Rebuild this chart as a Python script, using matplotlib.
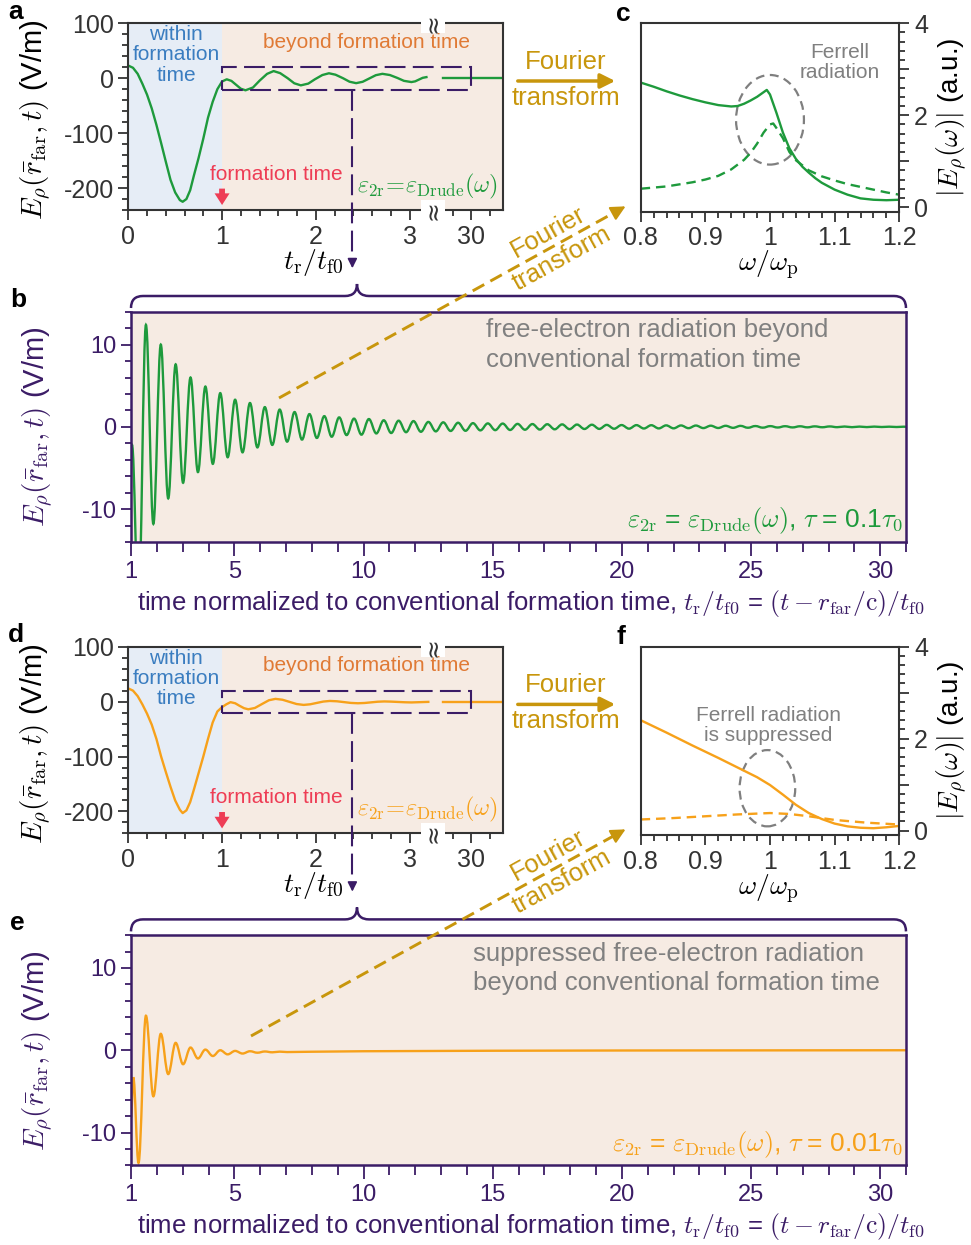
import numpy as np
import matplotlib.pyplot as plt
from matplotlib.patches import Rectangle, Ellipse, PathPatch
from matplotlib.path import Path
from matplotlib.lines import Line2D
from matplotlib.ticker import MultipleLocator, FixedLocator, FixedFormatter

plt.rcParams['font.family'] = ['Liberation Sans', 'DejaVu Sans']
plt.rcParams['mathtext.fontset'] = 'cm'
plt.rcParams['axes.unicode_minus'] = False

W, H = 971, 1245

GREEN = '#1e9a3c'
ORANGE = '#f7a11a'
PURPLE = '#3b1c66'
GOLD = '#c8960c'
DARK = '#333333'
BLUE_BG = '#e6edf6'
PEACH_BG = '#f6ebe3'
BLUE_TXT = '#3a7dc0'
ORANGE_TXT = '#e07a35'
RED_TXT = '#ee3d55'
GREY_TXT = '#808080'

# field pulse inside the formation time, t_r/t_f0 in [0, 1]
t_pulse = [0, 0.05, 0.1, 0.15, 0.2, 0.25, 0.3, 0.35, 0.4, 0.45, 0.5,
           0.55, 0.58, 0.62, 0.66, 0.7, 0.75, 0.8, 0.85, 0.9, 0.95, 1.0]
E_pulse_a = [23, 19, 8, -10, -30, -55, -85, -118, -152, -185, -208,
             -222, -225, -220, -204, -177, -145, -110, -72, -43, -20, -6]
E_pulse_d = [24, 20, 10, -5, -22, -42, -68, -100, -128, -155, -180,
             -197, -203, -198, -183, -160, -130, -100, -68, -38, -18, -10]

# early ringing after the formation time (tau = 0.1 tau0)
t_tail_a = [1.05, 1.10, 1.15, 1.20, 1.25, 1.33, 1.40, 1.48, 1.55, 1.62, 1.70,
            1.77, 1.84, 1.92, 1.99, 2.07, 2.14, 2.21, 2.29, 2.36, 2.43, 2.50,
            2.57, 2.64, 2.71, 2.79, 2.87, 2.94, 3.02, 3.06, 3.10, 3.14, 3.18]
E_tail_a = [-2, -4.9, -12, -19.1, -22, -16.9, -4.5, 7.9, 13, 9.2, 0,
            -9.2, -13, -9.8, -2, 5.8, 9, 6.4, 0, -6.4, -9, -6.5,
            -0.5, 5.5, 8, 5.8, 0.5, -4.8, -7, -5.7, -2.5, 0.7, 2]

# early ringing after the formation time (tau = 0.01 tau0)
t_tail_d = [1.045, 1.09, 1.14, 1.185, 1.235, 1.28, 1.35, 1.425, 1.50, 1.57,
            1.645, 1.72, 1.795, 1.87, 1.94, 2.01, 2.08, 2.15, 2.225, 2.30,
            2.375, 2.45, 2.52, 2.59, 2.66, 2.73, 2.80, 2.875, 2.95, 3.02,
            3.11, 3.20]
E_tail_d = [-5, -1, -3, -7.5, -12, -14, -11.6, -4.5, 2.5, 5,
            3.4, -0.5, -4.4, -6, -4.9, -2.4, 0.1, 1.2, 0.6, -0.9,
            -2.4, -3, -2.5, -1.35, -0.2, 0.3, 0, -0.6, -1.2, -1.5,
            -1.0, -0.5]

# field near t_r/t_f0 = 30
t_far = [29.70, 30.34]
E_far = [0, 0]

# long-time traces: successive extrema, half an oscillation period apart
t_first_ext = 1.29
half_period = 0.2877
t_start_b = [1.0, 1.04]
E_start_b = [-3.0, -2.2]
E_ext_b = [-22, 12.4, -11.8, 10.0, -8.7, 7.6, -6.8, 6.0, -5.5, 4.9,
           -4.5, 4.1, -3.7, 3.3, -3.1, 2.9, -2.5, 2.4, -2.2, 2.1,
           -1.8, 1.8, -1.55, 1.55, -1.35, 1.3, -1.2, 1.15, -1.0, 1.0,
           -0.95, 0.95, -0.8, 0.8, -0.75, 0.75, -0.65, 0.7, -0.6, 0.6,
           -0.55, 0.55, -0.5, 0.5, -0.48, 0.45, -0.43, 0.42, -0.4, 0.4,
           -0.38, 0.36, -0.35, 0.34, -0.33, 0.32, -0.3, 0.3, -0.28, 0.28,
           -0.26, 0.26, -0.25, 0.24, -0.23, 0.22, -0.22, 0.21, -0.2, 0.2,
           -0.19, 0.18, -0.18, 0.17, -0.16, 0.16, -0.15, 0.14, -0.14, 0.13,
           -0.12, 0.12, -0.11, 0.1, -0.1, 0.09, -0.08, 0.08, -0.07, 0.07,
           -0.06, 0.06, -0.05, 0.05, -0.04, 0.04, -0.04, 0.03, -0.03, 0.03,
           -0.02, 0.02, -0.02, 0.02]
t_end_b = [31.0]
E_end_b = [0.0]

t_start_e = [1.0, 1.09]
E_start_e = [-8.2, -3.3]
E_ext_e = [-13.7, 4.2, -5.6, 2.0, -2.9, 0.9, -1.7, 0.33, -1.0, 0.08,
           -0.7, 0.0, -0.5, -0.08, -0.4, -0.12, -0.3, -0.15, -0.25, -0.17,
           -0.22]
t_end_e = [8, 10, 15, 20, 31]
E_end_e = [-0.18, -0.12, -0.06, -0.03, 0]

# spectra |E_rho(omega)|
w_c = [0.80, 0.82, 0.84, 0.86, 0.88, 0.90, 0.92, 0.94, 0.95, 0.96, 0.97,
       0.98, 0.99, 0.995, 1.00, 1.01, 1.02, 1.03, 1.04, 1.05, 1.06, 1.07,
       1.08, 1.10, 1.12, 1.14, 1.16, 1.18, 1.20]
S_c = [2.71, 2.62, 2.52, 2.43, 2.35, 2.28, 2.22, 2.19, 2.20, 2.25, 2.32,
       2.40, 2.50, 2.55, 2.45, 2.05, 1.62, 1.28, 1.05, 0.88, 0.75, 0.63,
       0.53, 0.38, 0.27, 0.19, 0.16, 0.15, 0.16]
w_c_dash = [0.80, 0.84, 0.88, 0.90, 0.92, 0.94, 0.96, 0.97, 0.98, 0.99,
            1.00, 1.005, 1.01, 1.02, 1.03, 1.04, 1.06, 1.08, 1.10, 1.12,
            1.15, 1.18, 1.20]
S_c_dash = [0.40, 0.45, 0.54, 0.60, 0.68, 0.82, 1.03, 1.18, 1.38, 1.62,
            1.80, 1.82, 1.72, 1.50, 1.20, 1.02, 0.80, 0.67, 0.58, 0.50,
            0.41, 0.32, 0.27]
w_f = [0.80, 0.84, 0.88, 0.92, 0.96, 0.98, 1.00, 1.02, 1.04, 1.06, 1.08,
       1.10, 1.12, 1.14, 1.16, 1.18, 1.20]
S_f = [2.40, 2.13, 1.85, 1.58, 1.30, 1.16, 0.99, 0.78, 0.56, 0.38, 0.25,
       0.15, 0.09, 0.06, 0.05, 0.07, 0.10]
w_f_dash = [0.80, 0.85, 0.90, 0.95, 1.00, 1.03, 1.06, 1.10, 1.15, 1.20]
S_f_dash = [0.24, 0.27, 0.31, 0.35, 0.38, 0.36, 0.31, 0.23, 0.17, 0.13]

fig = plt.figure(figsize=(W / 100, H / 100), dpi=100)


def add_ax(x0, y0, x1, y1):
    return fig.add_axes([x0 / W, 1 - y1 / H, (x1 - x0) / W, (y1 - y0) / H])


def ftext(x, y, s, **kw):
    kw.setdefault('ha', 'center')
    kw.setdefault('va', 'center')
    return fig.text(x / W, 1 - y / H, s, **kw)


def to_fig(ax, x, y):
    return fig.transFigure.inverted().transform(ax.transData.transform((x, y)))


def style_axes(ax, color, lw=1.5, size=18):
    for s in ax.spines.values():
        s.set_color(color)
        s.set_linewidth(lw)
    ax.tick_params(which='both', direction='out', color=color, labelcolor=color,
                   labelsize=size, width=1.3)
    ax.tick_params(which='major', length=7)
    ax.tick_params(which='minor', length=4)


def wave(ax, t, E, color, lw=1.7):
    # smooth trace through the extrema: flat tangents at every node
    verts = [(t[0], E[0])]
    codes = [Path.MOVETO]
    for i in range(1, len(t)):
        d = 0.363 * (t[i] - t[i - 1])
        verts += [(t[i - 1] + d, E[i - 1]), (t[i] - d, E[i]), (t[i], E[i])]
        codes += [Path.CURVE4] * 3
    ax.add_patch(PathPatch(Path(verts, codes), fill=False, ec=color, lw=lw))


YLAB = r'$E_\rho(\bar{r}_\mathrm{far},t)$ (V/m)'
EPS = r'$\varepsilon_{\mathrm{2r}}\!=\!\varepsilon_{\mathrm{Drude}}(\omega)$'


def time_panel(dy, t, E, color, letter):
    axL = add_ax(128.3, 23.3 + dy, 433, 210 + dy)
    axR = add_ax(433, 23.3 + dy, 503, 210 + dy)
    for ax in (axL, axR):
        ax.set_ylim(-240, 100)
        style_axes(ax, DARK)
    axL.set_xlim(0, 3.25)
    axL.axvspan(0, 1, color=BLUE_BG, lw=0)
    axL.axvspan(1, 3.25, color=PEACH_BG, lw=0)
    axL.spines['right'].set_visible(False)
    axL.xaxis.set_major_locator(MultipleLocator(1))
    axL.xaxis.set_minor_locator(MultipleLocator(0.2))
    axL.yaxis.set_major_locator(MultipleLocator(100))
    axL.yaxis.set_minor_locator(MultipleLocator(20))
    axL.plot(t, E, color=color, lw=1.7)

    axR.set_xlim(29.59, 30.34)
    axR.set_facecolor(PEACH_BG)
    axR.spines['left'].set_visible(False)
    axR.set_xticks([30])
    axR.xaxis.set_minor_locator(MultipleLocator(0.2))
    axR.tick_params(axis='y', which='both', left=False, labelleft=False)
    axR.plot(t_far, E_far, color=color, lw=1.7)

    # axis break marks
    for yb in (23.3 + dy, 210 + dy):
        ftext(433, yb, '≈', rotation=90, fontsize=17, color=DARK,
              family='DejaVu Sans',
              bbox=dict(facecolor='white', edgecolor='none', pad=0.1))

    ftext(176, 55 + dy, 'within\nformation\ntime', color=BLUE_TXT,
          fontsize=15, linespacing=1.08)
    ftext(366, 42 + dy, 'beyond formation time', color=ORANGE_TXT, fontsize=15)
    ftext(276, 174 + dy, 'formation time', color=RED_TXT, fontsize=15)
    axL.annotate('', xy=(1, -236), xytext=(1, -196),
                 arrowprops=dict(arrowstyle='simple,head_width=0.9,head_length=0.7,tail_width=0.35',
                                 color=RED_TXT, lw=0, mutation_scale=12))
    ftext(427, 186 + dy, EPS, color=color, fontsize=17.5)

    ftext(8, 12 + dy, letter, ha='left', fontsize=19, fontweight='bold')
    ftext(36, 120 + dy, YLAB, rotation=90, fontsize=21)
    ftext(313, 262 + dy, r'$t_\mathrm{r}/t_\mathrm{f0}$', fontsize=20)

    # dashed zoom box and drop line to the long-time panel
    x0, y0 = to_fig(axL, 1, -21)
    x1, y1 = to_fig(axR, 30, 20)
    fig.add_artist(Rectangle((x0, y0), x1 - x0, y1 - y0, transform=fig.transFigure,
                             fill=False, ec=PURPLE, lw=1.5, ls=(0, (10, 3.5))))
    xd, yd = to_fig(axL, 2.39, -21)
    ye = 1 - (258 + dy) / H
    fig.add_artist(Line2D([xd, xd], [yd, ye], transform=fig.transFigure,
                          color=PURPLE, lw=1.5, ls=(0, (10, 3.5))))
    axL.annotate('', xy=(xd, 1 - (271 + dy) / H), xycoords='figure fraction',
                 xytext=(xd, ye), textcoords='figure fraction',
                 arrowprops=dict(arrowstyle='-|>', color=PURPLE, lw=1.2,
                                 mutation_scale=14), annotation_clip=False)

    # Fourier transform arrow towards the spectrum
    axL.annotate('', xy=(618 / W, 1 - (81 + dy) / H), xycoords='figure fraction',
                 xytext=(515 / W, 1 - (81 + dy) / H), textcoords='figure fraction',
                 arrowprops=dict(arrowstyle='-|>', color=GOLD, lw=2.5,
                                 mutation_scale=22), annotation_clip=False)
    ftext(566, 62 + dy, 'Fourier', color=GOLD, fontsize=18.5)
    ftext(566, 98 + dy, 'transform', color=GOLD, fontsize=18.5)
    return axL


def spectrum_panel(dy, w, S, wd, Sd, color, letter, ell, note, note_xy):
    ax = add_ax(640.7, 23.3 + dy, 899.3, 211.7 + dy)
    style_axes(ax, DARK)
    ax.set_xlim(0.8, 1.2)
    ax.set_ylim(-0.1, 4)
    ax.yaxis.tick_right()
    ax.xaxis.set_major_locator(FixedLocator([0.8, 0.9, 1.0, 1.1, 1.2]))
    ax.xaxis.set_major_formatter(FixedFormatter(['0.8', '0.9', '1', '1.1', '1.2']))
    ax.xaxis.set_minor_locator(MultipleLocator(0.02))
    ax.yaxis.set_major_locator(FixedLocator([0, 1, 2, 3, 4]))
    ax.yaxis.set_major_formatter(FixedFormatter(['0', '', '2', '', '4']))
    ax.yaxis.set_minor_locator(MultipleLocator(0.2))
    ax.plot(w, S, color=color, lw=1.7)
    ax.plot(wd, Sd, color=color, lw=1.7, ls=(0, (4, 2.5)))
    ax.add_patch(Ellipse(ell[:2], ell[2], ell[3], fill=False, ec='#7f7f7f',
                         lw=1.6, ls=(0, (4, 2.5))))
    ax.text(note_xy[0], note_xy[1], note, color=GREY_TXT, fontsize=15,
            ha='center', va='center', linespacing=1.05)
    ftext(616, 14 + dy, letter, ha='left', fontsize=19, fontweight='bold')
    ftext(768, 265 + dy, r'$\omega/\omega_\mathrm{p}$', fontsize=20)
    ftext(952, 117 + dy, r'$|E_\rho(\omega)|$ (a.u.)', rotation=90, fontsize=20)
    return ax


def brace(y, x0, x1, xc, r=12):
    pts = [(x0, y + r), (x0, y), (x0 + r, y), (xc - r, y), (xc, y), (xc, y - r),
           (xc, y), (xc + r, y), (x1 - r, y), (x1, y), (x1, y + r)]
    codes = [Path.MOVETO, Path.CURVE3, Path.CURVE3, Path.LINETO, Path.CURVE3,
             Path.CURVE3, Path.CURVE3, Path.CURVE3, Path.LINETO, Path.CURVE3,
             Path.CURVE3]
    verts = [(px / W, 1 - py / H) for px, py in pts]
    fig.add_artist(PathPatch(Path(verts, codes), transform=fig.transFigure,
                             fill=False, ec=PURPLE, lw=1.8))


def long_panel(dy, t, E, color, letter, note, note_x, legend, diag):
    ax = add_ax(131, 311.7 + dy, 906, 542 + dy)
    style_axes(ax, PURPLE, lw=1.8, size=17)
    ax.set_facecolor(PEACH_BG)
    ax.set_xlim(1, 31)
    ax.set_ylim(-14, 14)
    ax.xaxis.set_major_locator(FixedLocator([1, 5, 10, 15, 20, 25, 30]))
    ax.xaxis.set_minor_locator(MultipleLocator(1))
    ax.yaxis.set_major_locator(MultipleLocator(10))
    ax.yaxis.set_minor_locator(MultipleLocator(2))
    ax.tick_params(axis='x', which='major', length=10)
    ax.tick_params(axis='x', which='minor', length=7)
    wave(ax, t, E, color)
    ftext(note_x, 345 + dy, note, ha='left', color=GREY_TXT, fontsize=18.5,
          linespacing=1.3)
    ftext(903, 521 + dy, legend, ha='right', color=color, fontsize=19)
    ftext(10, 300 + dy, letter, ha='left', fontsize=19, fontweight='bold')
    ftext(38, 427 + dy, YLAB, rotation=90, fontsize=21, color=PURPLE)
    ftext(531, 603 + dy,
          r'time normalized to conventional formation time, $t_\mathrm{r}/t_\mathrm{f0}$'
          r' = $(t-r_\mathrm{far}/\mathrm{c})/t_\mathrm{f0}$',
          fontsize=18.5, color=PURPLE)
    brace(296 + dy, 131, 906, 357)

    # dashed Fourier-transform arrow from the ringing to the spectrum
    (xs, ys), (xe, ye) = diag
    ux, uy = (xe - xs), (ye - ys)
    n = np.hypot(ux, uy)
    fig.add_artist(Line2D([xs / W, (xe - 8 * ux / n) / W],
                          [1 - ys / H, 1 - (ye - 8 * uy / n) / H],
                          transform=fig.transFigure, color=GOLD, lw=2.1,
                          ls=(0, (4.5, 2.4))))
    ax.annotate('', xy=(xe / W, 1 - ye / H), xycoords='figure fraction',
                xytext=((xe - 14 * ux / n) / W, 1 - (ye - 14 * uy / n) / H),
                textcoords='figure fraction',
                arrowprops=dict(arrowstyle='-|>', color=GOLD, lw=1.5,
                                mutation_scale=22), annotation_clip=False)
    xm = 555
    ym = ys + (xm - xs) * uy / ux
    ang = np.degrees(np.arctan2(-uy, ux))
    ftext(xm, ym, 'Fourier\ntransform', color=GOLD, fontsize=18.5,
          rotation=ang, rotation_mode='anchor', linespacing=1.3)
    return ax


# panel a / b / c: tau = 0.1 tau0
time_panel(0, t_pulse + t_tail_a, E_pulse_a + E_tail_a, GREEN, 'a')
spectrum_panel(0, w_c, S_c, w_c_dash, S_c_dash, GREEN, 'c',
               (1.0, 1.9, 0.105, 1.95), 'Ferrell\nradiation', (1.108, 3.14))
t_b = t_start_b + list(t_first_ext + half_period * np.arange(len(E_ext_b))) + t_end_b
E_b = E_start_b + E_ext_b + E_end_b
long_panel(0, t_b, E_b, GREEN, 'b',
           'free-electron radiation beyond\nconventional formation time', 486,
           r'$\varepsilon_{\mathrm{2r}}$ = $\varepsilon_{\mathrm{Drude}}(\omega)$, '
           r'$\tau$ = 0.1$\tau_0$',
           ((279, 398), (628, 205)))

# panel d / e / f: tau = 0.01 tau0
DY = 623.4
time_panel(DY, t_pulse + t_tail_d, E_pulse_d + E_tail_d, ORANGE, 'd')
spectrum_panel(DY, w_f, S_f, w_f_dash, S_f_dash, ORANGE, 'f',
               (0.996, 0.92, 0.086, 1.66), 'Ferrell radiation\nis suppressed',
               (0.997, 2.29))
t_e = t_start_e + list(t_first_ext + half_period * np.arange(len(E_ext_e))) + t_end_e
E_e = E_start_e + E_ext_e + E_end_e
long_panel(DY, t_e, E_e, ORANGE, 'e',
           'suppressed free-electron radiation\nbeyond conventional formation time', 473,
           r'$\varepsilon_{\mathrm{2r}}$ = $\varepsilon_{\mathrm{Drude}}(\omega)$, '
           r'$\tau$ = 0.01$\tau_0$',
           ((251, 1036), (628, 828)))

fig.savefig('out.png', dpi=100)
